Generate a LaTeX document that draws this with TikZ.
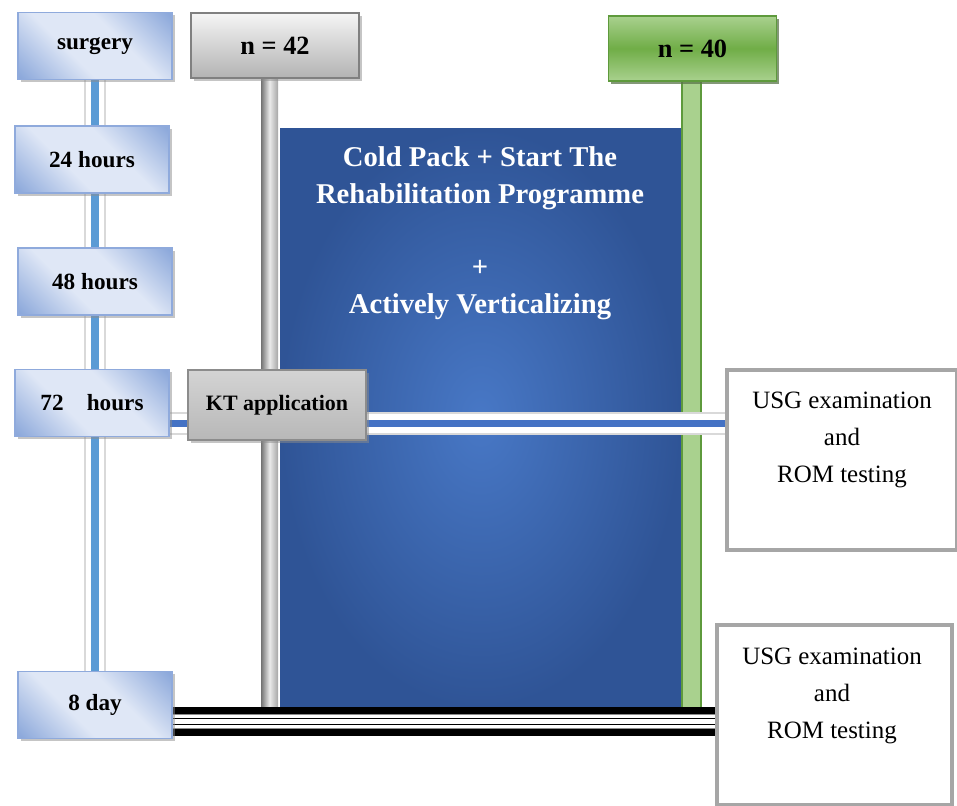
\documentclass[tikz,border=0pt]{standalone}
\usepackage{fontspec}
\setmainfont{Liberation Serif}
\usepackage{xcolor}
\usetikzlibrary{positioning, shadows, backgrounds}

\definecolor{tbdark}{HTML}{8DA9DB}
\definecolor{tblight}{HTML}{DFE7F6}
\definecolor{tbedge}{HTML}{8FAADC}
\definecolor{railblue}{HTML}{5B9BD5}
\definecolor{raildeep}{HTML}{4472C4}
\definecolor{progin}{HTML}{4878C6}
\definecolor{progout}{HTML}{2F5496}
\definecolor{grnlight}{HTML}{A9D18E}
\definecolor{grnmid}{HTML}{70AD47}
\definecolor{grnedge}{HTML}{5E9A3C}

\pgfdeclarehorizontalshading{timeshade}{100bp}{color(0bp)=(tbdark);
  color(16bp)=(tbdark); color(40bp)=(tblight); color(60bp)=(tblight);
  color(84bp)=(tbdark); color(100bp)=(tbdark)}

\begin{document}
\begin{tikzpicture}[
    x=0.02cm, y=-0.02cm,
    base/.style={align=center, inner sep=0pt,
                 drop shadow={shadow xshift=1.5pt, shadow yshift=-1.5pt,
                              fill=black!45}},
    timebox/.style={base, draw=tbedge, line width=0.8pt,
                    minimum width=3.08cm, minimum height=1.34cm,
                    shade, shading=timeshade, shading angle=45,
                    font=\fontsize{13.2}{15}\selectfont\bfseries},
    grouphead/.style={base, draw=black!50, line width=0.8pt,
                      minimum width=3.36cm, minimum height=1.3cm,
                      top color=black!4, bottom color=black!30,
                      font=\fontsize{15}{17}\selectfont\bfseries},
    greenhead/.style={grouphead, draw=grnedge,
                      top color=grnlight, bottom color=grnlight, middle color=grnmid,
                      drop shadow={shadow xshift=1.5pt, shadow yshift=-1.5pt,
                                   fill=grnedge!70!black}},
    ktbox/.style={base, draw=black!45, line width=0.8pt,
                  minimum width=3.56cm, minimum height=1.4cm,
                  top color=black!17, bottom color=black!28,
                  font=\fontsize{12.5}{15}\selectfont\bfseries},
    progbox/.style={inner sep=0pt, minimum width=8.02cm, minimum height=11.6cm,
                    inner color=progin, outer color=progout},
    progtext/.style={text=white, align=center, inner sep=0pt,
                     font=\fontsize{16.3}{21}\selectfont\bfseries},
    usgbox/.style={draw=black!35, line width=2.8pt, fill=white,
                   minimum width=4.6cm, minimum height=3.6cm},
    usgtext/.style={align=center, inner sep=0pt,
                    font=\fontsize{14.2}{21}\selectfont},
    graybar/.style={left color=black!55, right color=black!35, middle color=black!8},
    greenbar/.style={fill=grnlight, draw=grnedge, line width=0.8pt},
    vrail/.style={preaction={draw=black!15, line width=12.5pt},
                  preaction={draw=white, line width=10.8pt},
                  draw=railblue, line width=5.1pt},
    hrail/.style={preaction={draw=black!15, line width=13pt},
                  preaction={draw=white, line width=11.3pt},
                  draw=raildeep, line width=4pt},
    dayrail/.style={preaction={draw=black, line width=16.8pt},
                    preaction={draw=black!45, line width=8.2pt},
                    preaction={draw=white, line width=7.2pt},
                    preaction={draw=black, line width=4.5pt},
                    draw=white, line width=2.3pt},
  ]
  \useasboundingbox (0,0) rectangle (957,805);
  % ---- time points ----
  \node[timebox] (surgery)  at (95,46)    {surgery};
  \node[timebox] (h24)      at (92,159.5) {24 hours};
  \node[timebox] (h48)      at (95,281.5) {48 hours};
  \node[timebox] (h72)      at (92,403)   {72\quad hours};
  \node[timebox] (eightday) at (95,705)   {8 day};
  % ---- groups ----
  \node[grouphead] (n42) at (275,45.5) {n = 42};
  \node[greenhead] (n40) at (692.5,48.5) {n = 40};
  \node[ktbox]     (kt)  at (277,405)  {KT application};
  % ---- examinations ----
  \node[usgbox] (usg1) at (842,460) {};
  \node[usgbox, minimum width=4.7cm] (usg2) at (834.5,715) {};
  \node[usgtext, anchor=north] (usg1txt) at (842,392)
      {USG examination\\and\\ROM testing};
  \node[usgtext, anchor=north] (usg2txt) at (832,648)
      {USG examination\\and\\ROM testing};
  % ---- rails and bars ----
  \begin{scope}[on background layer]
    \node[progbox] (prog) at (480.5,418) {};
    \shade[graybar] ([xshift=-0.28cm]n42.south) rectangle
        ([xshift=0.06cm]n42.south |- prog.south);
    \filldraw[greenbar] ([xshift=-0.21cm]n40.south) rectangle
        ([xshift=0.17cm]n40.south |- prog.south);
    \draw[vrail] (surgery.center) -- (surgery.center |- eightday.center);
    \coordinate (kty) at (0,423.5);
    \draw[hrail] (h72.center |- kty) -- (usg1.west |- kty);
    \coordinate (dayy) at (0,721.5);
    \draw[dayrail] (eightday.center |- dayy) -- (usg2.west |- dayy);
  \end{scope}
  \node[progtext, anchor=north] (progtxt) at (480,146)
      {Cold Pack + Start The\\Rehabilitation Programme\\[21pt]+\\Actively Verticalizing};
\end{tikzpicture}
\end{document}
